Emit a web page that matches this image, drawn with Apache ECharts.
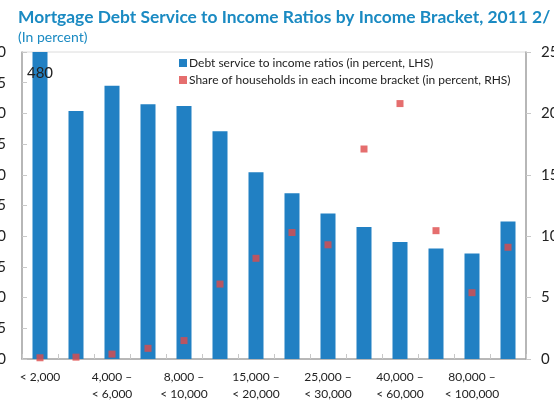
<!DOCTYPE html>
<html>
<head>
<meta charset="utf-8">
<script src="https://cdn.jsdelivr.net/npm/echarts@6/dist/echarts.min.js"></script>
<style>
  html, body { margin: 0; padding: 0; background: #fff; }
  #chart { width: 554px; height: 400px; }
</style>
</head>
<body>
<div id="chart"></div>
<script>
// Income brackets (monthly income, national currency)
const brackets = [
  '< 2,000', '2,000 –\n< 4,000', '4,000 –\n< 6,000', '6,000 –\n< 8,000',
  '8,000 –\n< 10,000', '10,000 –\n< 15,000', '15,000 –\n< 20,000', '20,000 –\n< 25,000',
  '25,000 –\n< 30,000', '30,000 –\n< 40,000', '40,000 –\n< 60,000', '60,000 –\n< 80,000',
  '80,000 –\n< 100,000', '≥ 100,000'
];
// Debt service to income ratios (percent, left axis)
const debtService = [480, 40.4, 44.5, 41.5, 41.2, 37.1, 30.4, 27.0, 23.7, 21.5, 19.05, 18.0, 17.2, 22.4];
// Share of households in each bracket (percent, right axis)
const householdShare = [0.1, 0.15, 0.4, 0.87, 1.5, 6.1, 8.2, 10.3, 9.3, 17.1, 20.8, 10.45, 5.4, 9.1];
// Axis ranges
const leftAxis = { min: 0, max: 50, step: 5 };
const rightAxis = { min: 0, max: 25, step: 5 };

const blue = '#2180c3';
const red = '#df4a4a';
const axisGray = '#a6a6a6';
const fontFamily = 'Lato, "Open Sans", sans-serif';

const chart = echarts.init(document.getElementById('chart'), null, { renderer: 'canvas' });
chart.setOption({
  animation: false,
  textStyle: { fontFamily },
  title: [
    {
      text: 'Mortgage Debt Service to Income Ratios by Income Bracket, 2011 2/',
      left: 13, top: 4,
      textStyle: { fontFamily, fontSize: 17.4, fontWeight: 'bold', color: '#1a8ac2' }
    },
    {
      text: '(In percent)',
      left: 13, top: 25,
      textStyle: { fontFamily, fontSize: 14, fontWeight: 'normal', color: '#1a8ac2' }
    }
  ],
  legend: {
    orient: 'vertical',
    left: 174, top: 52,
    itemWidth: 8, itemHeight: 8, itemGap: 5,
    textStyle: { fontFamily, fontSize: 12, color: '#222', padding: [0, 0, 0, -3] },
    data: [
      { name: 'Debt service to income ratios (in percent, LHS)', icon: 'rect' },
      { name: 'Share of households in each income bracket (in percent, RHS)', icon: 'rect' }
    ]
  },
  grid: {
    left: 22, right: 28, top: 52, bottom: 41,
    outerBoundsMode: 'none',
    containLabel: false,
    show: true, borderColor: '#dcdcdc', borderWidth: 1
  },
  xAxis: {
    type: 'category',
    data: brackets,
    axisLine: { lineStyle: { color: axisGray, width: 1.5 } },
    axisTick: { show: true, inside: true, length: 5, interval: 0, lineStyle: { color: '#c8c8c8' } },
    axisLabel: { interval: 1, margin: 10, fontSize: 12, lineHeight: 17, color: '#222', fontFamily }
  },
  yAxis: [
    {
      type: 'value',
      min: leftAxis.min, max: leftAxis.max, interval: leftAxis.step,
      axisLine: { show: true, lineStyle: { color: axisGray, width: 1.5 } },
      axisTick: { show: true, inside: true, length: 5, lineStyle: { color: '#c8c8c8' } },
      splitLine: { show: false },
      axisLabel: { margin: 16, fontSize: 15, color: '#222', fontFamily }
    },
    {
      type: 'value',
      position: 'right',
      min: rightAxis.min, max: rightAxis.max, interval: rightAxis.step,
      axisLine: { show: true, lineStyle: { color: axisGray, width: 1.5 } },
      axisTick: { show: true, inside: false, length: 5, lineStyle: { color: '#c8c8c8' } },
      splitLine: { show: false },
      axisLabel: { margin: 15, fontSize: 15, color: '#222', fontFamily }
    }
  ],
  series: [
    {
      name: 'Debt service to income ratios (in percent, LHS)',
      type: 'bar',
      yAxisIndex: 0,
      barWidth: 15,
      clip: true,
      itemStyle: { color: blue },
      data: debtService.map((v, i) => i === 0
        ? { value: v, label: { show: true, position: 'insideTop', distance: 14, formatter: '{c}', fontSize: 15, color: '#222', fontFamily } }
        : v),
      z: 2
    },
    {
      name: 'Share of households in each income bracket (in percent, RHS)',
      type: 'scatter',
      yAxisIndex: 1,
      symbol: 'rect',
      symbolSize: 7,
      itemStyle: { color: red },
      data: householdShare,
      z: 3
    }
  ]
});
</script>
</body>
</html>
